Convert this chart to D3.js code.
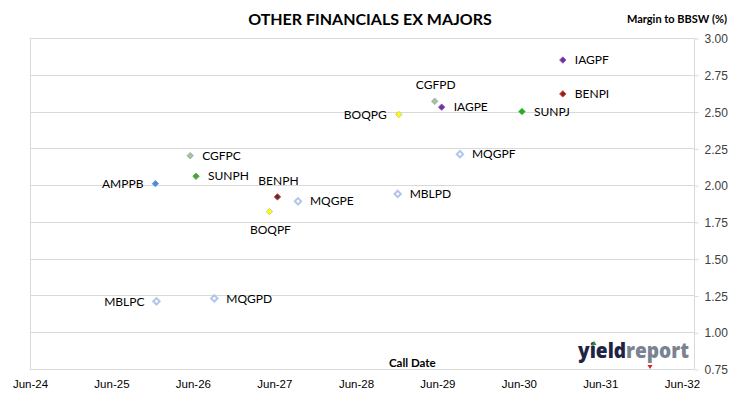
<!DOCTYPE html>
<html>
<head>
<meta charset="utf-8">
<script src="https://cdn.jsdelivr.net/npm/d3@7"></script>
<style>
  body { margin: 0; background: #fff; }
  svg { display: block; font-family: Lato, "Open Sans", sans-serif; }
</style>
</head>
<body>
<svg id="chart" width="730" height="399"></svg>
<script>
// securities, call dates and margins
const names = ['IAGPF', 'BENPI', 'SUNPJ', 'IAGPE', 'CGFPD', 'BOQPG', 'MQGPF', 'MBLPD',
    'CGFPC', 'SUNPH', 'AMPPB', 'BENPH', 'MQGPE', 'BOQPF', 'MBLPC', 'MQGPD'];
const callDates = ['2030-12-15', '2030-12-15', '2030-06-15', '2029-06-20', '2029-05-20', '2028-12-10',
    '2029-09-10', '2028-12-05', '2026-05-20', '2026-06-15', '2025-12-15', '2027-06-15',
    '2027-09-15', '2027-05-10', '2025-12-20', '2026-09-05'];
const margins = [2.85, 2.62, 2.50, 2.53, 2.57, 2.48, 2.21, 1.94, 2.20, 2.06, 2.01, 1.92, 1.89, 1.82, 1.21, 1.23];
const labelSide = ['right', 'right', 'right', 'right', 'top', 'left', 'right', 'right',
    'right', 'right', 'left', 'top', 'right', 'bottom', 'left', 'right'];

const fills = {
    IAG: '#7030a0', BEN: '#9e1b1b', SUN: '#22aa22', CGF: '#b2c08c', BOQ: '#ffff00',
    MQG: '#ffffff', MBL: '#ffffff', AMP: '#4a8ad8'
};
const strokes = {
    IAG: '#8d5cbc', BEN: '#b24a4a', SUN: '#44bb44', CGF: '#97afd0', BOQ: '#c8c890',
    MQG: '#b4c6e7', MBL: '#b4c6e7', AMP: '#6a9fe0'
};
const specialFill = { BENPH: '#6b2626', SUNPH: '#5e9a3a' };

const xTicks = ['2024-06-01', '2025-06-01', '2026-06-01', '2027-06-01', '2028-06-01',
    '2029-06-01', '2030-06-01', '2031-06-01', '2032-06-01'];
const yTicks = [0.75, 1.00, 1.25, 1.50, 1.75, 2.00, 2.25, 2.50, 2.75, 3.00];

const parse = d3.timeParse('%Y-%m-%d');
const data = names.map((n, i) => ({
    name: n, date: parse(callDates[i]), margin: margins[i], side: labelSide[i], issuer: n.slice(0, 3)
}));

const svg = d3.select('#chart');
const plotLeft = 30, plotRight = 694, plotTop = 38, plotBottom = 369;

const x = d3.scaleTime()
    .domain([parse('2024-06-01'), parse('2032-07-25')])
    .range([plotLeft, plotRight]);
const y = d3.scaleLinear()
    .domain([0.75, 3.00])
    .range([plotBottom, plotTop]);

// gridlines
svg.append('g')
    .selectAll('line')
    .data(yTicks)
    .join('line')
    .attr('x1', plotLeft).attr('x2', plotRight)
    .attr('y1', d => Math.round(y(d)) + 0.5).attr('y2', d => Math.round(y(d)) + 0.5)
    .attr('stroke', '#d9d9d9');

// left frame edge
svg.append('line')
    .attr('x1', plotLeft + 0.5).attr('x2', plotLeft + 0.5)
    .attr('y1', y(3.00)).attr('y2', y(0.75) + 0.5)
    .attr('stroke', '#d9d9d9');

// right value axis
const yAxis = svg.append('g')
    .attr('transform', `translate(${plotRight + 0.5},0.5)`)
    .call(d3.axisRight(y).tickValues(yTicks).tickFormat(d3.format('.2f')).tickSize(4).tickPadding(6));
yAxis.select('.domain').attr('stroke', '#d9d9d9').attr('d', `M0,${y(3.00)}V${y(0.75)}`);
yAxis.selectAll('.tick line').attr('stroke', '#d9d9d9');
yAxis.selectAll('.tick text')
    .attr('fill', '#404040')
    .style('font-size', '12px')
    .attr('dy', '0.35em');

// date axis labels (no ticks)
const xAxis = svg.append('g')
    .attr('transform', `translate(0,${plotBottom})`)
    .call(d3.axisBottom(x).tickValues(xTicks.map(parse)).tickFormat(d3.timeFormat('%b-%y')).tickSize(0).tickPadding(11));
xAxis.select('.domain').remove();
xAxis.selectAll('.tick text')
    .attr('fill', '#000')
    .style('font-size', '11.5px');

// markers
const diamond = d3.symbol().type(d3.symbolDiamond2).size(26);
svg.append('g')
    .selectAll('path')
    .data(data)
    .join('path')
    .attr('d', diamond)
    .attr('transform', d => `translate(${x(d.date)},${y(d.margin)})`)
    .attr('fill', d => specialFill[d.name] || fills[d.issuer])
    .attr('stroke', d => strokes[d.issuer])
    .attr('stroke-width', d => (d.issuer === 'MQG' || d.issuer === 'MBL') ? 2 : 1);

// point labels
const offsets = {
    right: { dx: 12, dy: 0, anchor: 'start' },
    left: { dx: -12, dy: 0, anchor: 'end' },
    top: { dx: 1, dy: -16, anchor: 'middle' },
    bottom: { dx: 1, dy: 18, anchor: 'middle' }
};
svg.append('g')
    .selectAll('text')
    .data(data)
    .join('text')
    .attr('x', d => x(d.date) + offsets[d.side].dx)
    .attr('y', d => y(d.margin) + offsets[d.side].dy)
    .attr('dy', '0.35em')
    .attr('text-anchor', d => offsets[d.side].anchor)
    .style('font-size', '12px')
    .attr('fill', '#000')
    .text(d => d.name);

// titles
svg.append('text')
    .attr('x', 370).attr('y', 19).attr('dy', '0.35em')
    .attr('text-anchor', 'middle')
    .style('font-size', '16px').style('font-weight', 'bold')
    .text('OTHER FINANCIALS EX MAJORS');

svg.append('text')
    .attr('x', 727).attr('y', 19).attr('dy', '0.35em')
    .attr('text-anchor', 'end')
    .style('font-size', '11px').style('font-weight', 'bold')
    .text('Margin to BBSW (%)');

svg.append('text')
    .attr('x', 389).attr('y', 363).attr('dy', '0.35em')
    .style('font-size', '11.5px').style('font-weight', 'bold')
    .text('Call Date');

// yieldreport logo
const logo = svg.append('g');
const lt = logo.append('text')
    .attr('x', 578).attr('y', 358)
    .attr('textLength', 111).attr('lengthAdjust', 'spacingAndGlyphs')
    .style('font-family', '"Open Sans", sans-serif')
    .style('font-size', '21px').style('font-weight', 800);
lt.append('tspan').attr('fill', '#1e2444').text('yield');
lt.append('tspan').attr('fill', '#7a8392').text('report');
logo.append('path')
    .attr('d', 'M591.5,345 L594,341 L596.5,345 Z')
    .attr('fill', '#2e8b3a');
logo.append('path')
    .attr('d', 'M647.5,365 L650,369 L652.5,365 Z')
    .attr('fill', '#e02020');
</script>
</body>
</html>
